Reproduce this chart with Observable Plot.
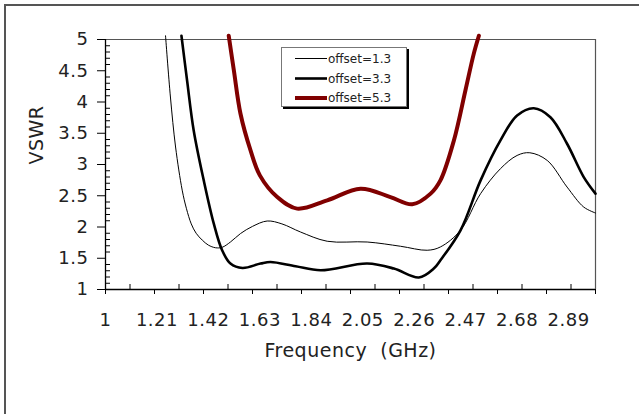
<!DOCTYPE html>
<html><head><meta charset="utf-8">
<script src="https://cdn.jsdelivr.net/npm/d3@7"></script>
<script src="https://cdn.jsdelivr.net/npm/@observablehq/plot@0.6"></script>
<style>
body{margin:0;width:639px;height:414px;overflow:hidden;background:#fff;position:relative;font-family:"DejaVu Sans",sans-serif}
#frame{position:absolute;left:4px;top:4px;width:700px;height:500px;border-left:2px solid #555;border-top:2px solid #555;}
#chart{position:absolute;left:0;top:0}
#chart svg text{letter-spacing:0.5px}
#legend{position:absolute;left:281px;top:47px;width:124px;height:58px;border:1px solid #777;box-shadow:2px 2px 0 #000;background:#fff}
#legend svg{position:absolute;left:0;top:0}
.lt{position:absolute;left:46px;font-size:12px;line-height:20px;color:#222;white-space:nowrap}
</style></head>
<body>
<div id="frame"></div>
<div id="chart"></div>
<div id="legend"></div>
<script>
// Series
const series = ["offset=1.3", "offset=3.3", "offset=5.3"];
const colors = ["#000000", "#000000", "#800000"];
const widths = [1, 2.6, 4];

// offset=1.3
const f13 = [1.245,1.265,1.286,1.313,1.330,1.350,1.370,1.395,1.420,1.449,1.476,1.510,1.551,1.600,1.660,1.720,1.796,1.905,2.068,2.204,2.313,2.367,2.449,2.531,2.612,2.680,2.732,2.803,2.884,2.952,3.0];
const v13 = [5.06,4.08,3.28,2.59,2.30,2.05,1.90,1.79,1.71,1.668,1.675,1.76,1.895,2.01,2.096,2.05,1.92,1.772,1.76,1.692,1.628,1.681,1.947,2.534,2.933,3.145,3.188,3.065,2.639,2.319,2.224];
// offset=3.3
const f33 = [1.310,1.333,1.360,1.401,1.442,1.476,1.510,1.559,1.633,1.673,1.776,1.878,2.068,2.177,2.279,2.340,2.367,2.449,2.531,2.612,2.680,2.748,2.816,2.884,2.952,3.0];
const v33 = [5.06,4.344,3.545,2.746,2.054,1.628,1.415,1.345,1.415,1.441,1.372,1.308,1.415,1.335,1.192,1.335,1.468,1.947,2.746,3.385,3.784,3.901,3.757,3.332,2.799,2.534];
// offset=5.3
const f53 = [1.503,1.524,1.551,1.592,1.630,1.701,1.782,1.905,2.041,2.163,2.252,2.327,2.367,2.422,2.469,2.503,2.524];
const v53 = [5.06,4.503,3.812,3.225,2.826,2.479,2.294,2.427,2.613,2.479,2.363,2.534,2.746,3.385,4.184,4.770,5.06];

// Axis ticks
const yTicks = [1, 1.5, 2, 2.5, 3, 3.5, 4, 4.5, 5];
const yMinor = [1.1,1.2,1.3,1.4,1.6,1.7,1.8,1.9,2.1,2.2,2.3,2.4,2.6,2.7,2.8,2.9,3.1,3.2,3.3,3.4,3.6,3.7,3.8,3.9,4.1,4.2,4.3,4.4,4.6,4.7,4.8,4.9];
const xMajor = [1.0,1.2,1.4,1.6,1.8,2.0,2.2,2.4,2.6,2.8,3.0];
const xMinor = [1.1,1.3,1.5,1.7,1.9,2.1,2.3,2.5,2.7,2.9];
const xLabels = ["1","1.21","1.42","1.63","1.84","2.05","2.26","2.47","2.68","2.89"];
const xTitle = "Frequency\u00A0\u00A0(GHz)";
const yTitle = "VSWR";

const cols = [[f13, v13], [f33, v33], [f53, v53]];
const rows = [];
cols.forEach(([f, v], i) => f.forEach((x, j) => rows.push({series: series[i], f: x, v: v[j]})));

const chart = Plot.plot({
  width: 639, height: 414,
  marginLeft: 105, marginRight: 44, marginTop: 39, marginBottom: 125,
  style: {fontFamily: "DejaVu Sans, sans-serif", fontSize: "18px", color: "#222", background: "transparent", overflow: "visible"},
  x: {domain: [1, 3], axis: null},
  y: {domain: [1, 5], axis: null},
  marks: [
    Plot.ruleY([5], {stroke: "#555", strokeWidth: 1.2}),
    Plot.ruleX([3], {stroke: "#555", strokeWidth: 1.2}),
    Plot.axisY({ticks: yTicks, tickSize: 8, tickPadding: 9, tickFormat: d => String(d), label: null, stroke: "#000", fill: "#222"}),
    Plot.tickY(yMinor, {y: d => d, insetRight: 485, stroke: "#000"}),
    Plot.axisX({ticks: xMajor, tickSize: 5, tickFormat: () => "", label: null, stroke: "#000"}),
    Plot.axisX({ticks: xLabels.map(Number), tickSize: 0, tickPadding: 24, tickFormat: (d, i) => xLabels[i], label: null, fill: "#222"}),
    Plot.tickX(xMinor, {x: d => d, insetTop: 245, stroke: "#000"}),
    Plot.ruleY([1], {stroke: "#000", strokeWidth: 1.3}),
    Plot.ruleX([1], {stroke: "#000", strokeWidth: 1.3}),
    ...series.map((s, i) => Plot.line(rows.filter(d => d.series === s), {x: "f", y: "v", stroke: colors[i], strokeWidth: widths[i], curve: "catmull-rom"})),
    Plot.text([xTitle], {text: d => d, frameAnchor: "bottom", dy: 67, fontSize: 19, fill: "#222"}),
    Plot.text([yTitle], {text: d => d, frameAnchor: "left", dx: -69, rotate: -90, fontSize: 19, fill: "#222"})
  ]
});
document.getElementById("chart").appendChild(chart);

// Legend
const lg = document.getElementById("legend");
const rowMid = [10.5, 30.5, 50];
const ns = "http://www.w3.org/2000/svg";
const sv = document.createElementNS(ns, "svg");
sv.setAttribute("width", 124); sv.setAttribute("height", 58);
lg.appendChild(sv);
series.forEach((s, i) => {
  const ln = document.createElementNS(ns, "line");
  ln.setAttribute("x1", 13); ln.setAttribute("x2", 45);
  ln.setAttribute("y1", rowMid[i]); ln.setAttribute("y2", rowMid[i]);
  ln.setAttribute("stroke", colors[i]); ln.setAttribute("stroke-width", widths[i]);
  sv.appendChild(ln);
  const t = document.createElement("div");
  t.className = "lt";
  t.style.top = (Math.round(rowMid[i]) - 10) + "px";
  t.textContent = s;
  lg.appendChild(t);
});
</script>
</body></html>
